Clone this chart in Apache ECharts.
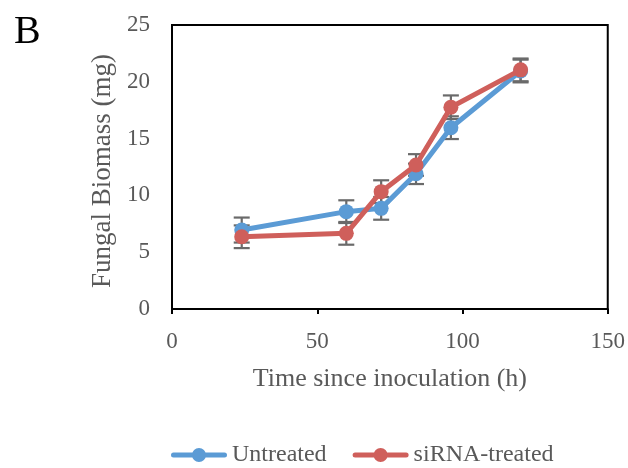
<!DOCTYPE html>
<html><head><meta charset="utf-8">
<script src="https://cdn.jsdelivr.net/npm/echarts@6/dist/echarts.min.js"></script>
<style>html,body{margin:0;padding:0;background:#fff}#c{width:628px;height:468px}</style>
</head><body><div id="c"></div>
<script>
var times = [24, 60, 72, 84, 96, 120];
var untreated = [6.95, 8.57, 8.86, 11.9, 15.96, 20.95];
var untreatedErr = [1.1, 1.0, 1.0, 0.9, 1.0, 1.0];
var sirna = [6.36, 6.66, 10.33, 12.68, 17.76, 21.05];
var sirnaErr = [1.0, 1.0, 1.0, 0.95, 1.04, 1.0];
var xTicks = [0, 50, 100, 150];
var yTicks = [0, 5, 10, 15, 20, 25];

var FONT = 'Liberation Serif';
var GREY = '#595959';
var BLUE = '#5B9BD5';
var RED = '#CF5F5B';

function pairs(xs, ys) { return xs.map(function (x, i) { return [x, ys[i]]; }); }
function errData(xs, ys, es) { return xs.map(function (x, i) { return [x, ys[i] - es[i], ys[i] + es[i]]; }); }

function errRender(params, api) {
  var x = api.value(0), lo = api.value(1), hi = api.value(2);
  var pLo = api.coord([x, lo]), pHi = api.coord([x, hi]);
  var w = 8;
  var st = { stroke: '#6a6a6a', lineWidth: 2.2 };
  return { type: 'group', children: [
    { type: 'line', shape: { x1: pLo[0], y1: pLo[1], x2: pHi[0], y2: pHi[1] }, style: st },
    { type: 'line', shape: { x1: pLo[0] - w, y1: pLo[1], x2: pLo[0] + w, y2: pLo[1] }, style: st },
    { type: 'line', shape: { x1: pHi[0] - w, y1: pHi[1], x2: pHi[0] + w, y2: pHi[1] }, style: st }
  ]};
}

var legendIcon = 'path://M2.5,4.5 L53.5,4.5 A2.5,2.5 0 0,1 53.5,9.5 L2.5,9.5 A2.5,2.5 0 0,1 2.5,4.5 Z M28,0 A7,7 0 1,1 27.99,0 Z';

var chart = echarts.init(document.getElementById('c'));
chart.setOption({
  animation: false,
  textStyle: { fontFamily: FONT },
  title: { text: 'B', left: 9, top: 7, textStyle: { fontFamily: FONT, fontSize: 40, fontWeight: 'normal', color: '#000' } },
  grid: { left: 172, right: 19, top: 25, bottom: 159, show: true, borderColor: '#000', borderWidth: 2 },
  legend: {
    top: 438, left: 166, itemWidth: 56, itemHeight: 14, itemGap: 26,
    textStyle: { fontFamily: FONT, fontSize: 24, color: GREY },
    data: [{ name: 'Untreated', icon: legendIcon }, { name: 'siRNA-treated', icon: legendIcon }]
  },
  xAxis: {
    type: 'value', min: 0, max: 150, interval: 50,
    name: 'Time since inoculation (h)', nameLocation: 'middle', nameGap: 57,
    nameTextStyle: { fontFamily: FONT, fontSize: 26, color: GREY },
    axisLine: { lineStyle: { color: '#000', width: 2 } },
    axisTick: { show: true, length: 5, lineStyle: { color: '#000', width: 2 } },
    axisLabel: { fontFamily: FONT, fontSize: 23, color: GREY, margin: 21 },
    splitLine: { show: false }
  },
  yAxis: {
    type: 'value', min: 0, max: 25, interval: 5,
    name: 'Fungal Biomass (mg)', nameLocation: 'middle', nameGap: 44,
    nameTextStyle: { fontFamily: FONT, fontSize: 27, color: GREY, padding: [0, 8, 0, 0] },
    axisLine: { show: true, lineStyle: { color: '#000', width: 2 } },
    axisTick: { show: false },
    axisLabel: { fontFamily: FONT, fontSize: 23, color: GREY, margin: 22 },
    splitLine: { show: false }
  },
  series: [
    { name: 'errU', type: 'custom', renderItem: errRender, data: errData(times, untreated, untreatedErr), z: 1, silent: true },
    { name: 'errS', type: 'custom', renderItem: errRender, data: errData(times, sirna, sirnaErr), z: 1, silent: true },
    { name: 'Untreated', type: 'line', data: pairs(times, untreated), z: 3,
      symbol: 'circle', symbolSize: 15,
      lineStyle: { color: BLUE, width: 5 }, itemStyle: { color: BLUE } },
    { name: 'siRNA-treated', type: 'line', data: pairs(times, sirna), z: 4,
      symbol: 'circle', symbolSize: 15,
      lineStyle: { color: RED, width: 5 }, itemStyle: { color: RED } }
  ]
});
</script></body></html>
